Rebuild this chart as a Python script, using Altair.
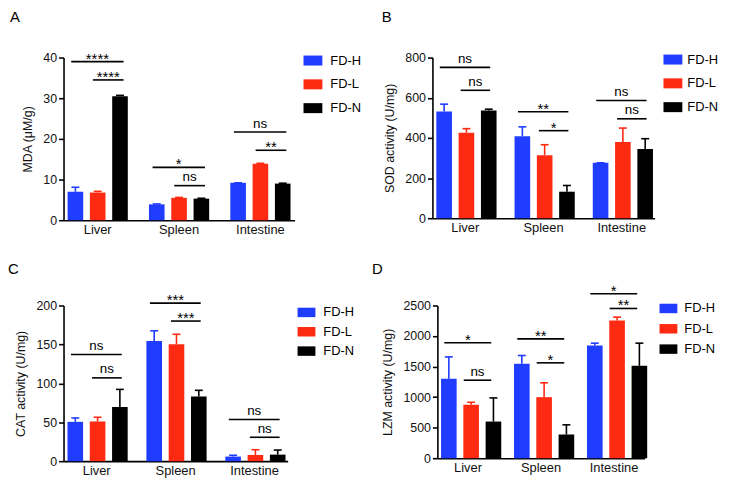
import altair as alt
import pandas as pd

organs = ["Liver", "Spleen", "Intestine"]
groups = ["FD-H", "FD-L", "FD-N"]
colors = ["#1f3cff", "#ff2a12", "#000000"]

# Panel A: MDA (uM/g)
mda_h = [7.0, 3.9, 9.2]
mda_l = [6.8, 5.5, 13.9]
mda_n = [30.5, 5.3, 9.0]
mda_h_err = [1.1, 0.1, 0.0]
mda_l_err = [0.3, 0.1, 0.1]
mda_n_err = [0.2, 0.1, 0.1]
mda_top_y = [39.0, 13.0, 21.7]
mda_top_lab = ["****", "*", "ns"]
mda_low_y = [34.5, 8.5, 17.2]
mda_low_lab = ["****", "ns", "**"]

# Panel B: SOD activity (U/mg)
sod_h = [531, 408, 276]
sod_l = [426, 314, 380]
sod_n = [537, 132, 345]
sod_h_err = [37, 47, 0]
sod_l_err = [20, 52, 69]
sod_n_err = [6, 31, 51]
sod_top_y = [751, 530, 586]
sod_top_lab = ["ns", "**", "ns"]
sod_low_y = [637, 436, 495]
sod_low_lab = ["ns", "*", "ns"]

# Panel C: CAT activity (U/mg)
cat_h = [50.5, 154.5, 5.9]
cat_l = [51.0, 150.3, 8.0]
cat_n = [69.5, 83.0, 8.4]
cat_h_err = [5.0, 13.0, 1.7]
cat_l_err = [5.4, 12.7, 6.7]
cat_n_err = [22.7, 8.0, 5.9]
cat_top_y = [137, 203, 53.5]
cat_top_lab = ["ns", "***", "ns"]
cat_low_y = [107, 180, 30.7]
cat_low_lab = ["ns", "***", "ns"]

# Panel D: LZM activity (U/mg)
lzm_h = [1300, 1545, 1845]
lzm_l = [875, 999, 2254]
lzm_n = [600, 388, 1512]
lzm_h_err = [358, 136, 38]
lzm_l_err = [40, 235, 55]
lzm_n_err = [387, 158, 371]
lzm_top_y = [1889, 1954, 2691]
lzm_top_lab = ["*", "**", "*"]
lzm_low_y = [1277, 1561, 2451]
lzm_low_lab = ["ns", "*", "**"]

FONT = "Liberation Sans"
SYMBOL = "M-1,-0.53H1V0.53H-1Z"


def bar_frame(h, l, n, he, le, ne):
    rows = []
    for g, means, errs in zip(groups, [h, l, n], [he, le, ne]):
        for o, m, e in zip(organs, means, errs):
            rows.append({"organ": o, "group": g, "mean": m, "upper": m + e})
    return pd.DataFrame(rows)


def sig_frame(top_y, top_lab, low_y, low_lab):
    rows = []
    for o, ty, tl, ly, ll in zip(organs, top_y, top_lab, low_y, low_lab):
        rows.append({"organ": o, "kind": "top", "y": ty, "lab": tl})
        rows.append({"organ": o, "kind": "low", "y": ly, "lab": ll})
    return pd.DataFrame(rows)


def panel(df, sig, ymax, ticks, ytitle, letter, w, h, leg, letter_pos):
    lx, ly, sym, rowpad, loff = leg
    xaxis = alt.Axis(title=None, ticks=False, labelAngle=0,
                     labelPadding=3, labelFontSize=13)
    xscale = alt.Scale(paddingInner=0.26, paddingOuter=0.05)
    xoff = alt.XOffset("group:N", sort=groups,
                       scale=alt.Scale(paddingInner=0.3, paddingOuter=0))
    yscale = alt.Scale(domain=[0, ymax], nice=False)
    yaxis = alt.Axis(values=ticks, title=ytitle, titlePadding=8, format="d")

    def X(**kw):
        return alt.X("organ:N", sort=organs, scale=xscale, axis=xaxis, **kw)

    def Y(field):
        return alt.Y(field, scale=yscale, axis=yaxis)

    cscale = alt.Scale(domain=groups, range=colors)
    base = alt.Chart(df)
    bars = base.mark_bar().encode(
        x=X(), xOffset=xoff, y=Y("mean:Q"),
        color=alt.Color("group:N", sort=groups, scale=cscale,
                        legend=alt.Legend(title=None, orient="none",
                                          legendX=lx, legendY=ly,
                                          symbolType=SYMBOL, symbolSize=sym,
                                          symbolStrokeWidth=0, symbolOpacity=1,
                                          labelFontSize=13, labelFont=FONT,
                                          labelColor="black", labelOffset=loff,
                                          rowPadding=rowpad)))
    cnoleg = alt.Color("group:N", sort=groups, scale=cscale, legend=None)
    errs = base.mark_rule(strokeWidth=1.6).encode(
        x=X(), xOffset=xoff, y=Y("mean:Q"), y2="upper:Q", color=cnoleg)
    caps = base.mark_tick(thickness=1.6, size=8, opacity=1).encode(
        x=X(), xOffset=xoff, y=Y("upper:Q"), color=cnoleg)
    sbase = alt.Chart(sig)
    layers = [bars, errs, caps]
    spans = {"top": (0.06, 0.93), "low": (0.42, 0.93)}
    for kind, (b0, b1) in spans.items():
        sub = sbase.transform_filter(alt.datum.kind == kind)
        layers.append(sub.mark_rule(strokeWidth=1.6, color="black").encode(
            x=X(bandPosition=b0),
            x2=alt.X2("organ:N", bandPosition=b1),
            y=Y("y:Q")))
        mid = (b0 + b1) / 2
        layers.append(sub.transform_filter(alt.datum.lab == "ns").mark_text(
            fontSize=13.5, font=FONT, dy=-4.5, baseline="alphabetic", color="black").encode(
            x=X(bandPosition=mid), y=Y("y:Q"), text="lab:N"))
        layers.append(sub.transform_filter(alt.datum.lab != "ns").mark_text(
            fontSize=15, font=FONT, dy=2, baseline="alphabetic", color="black").encode(
            x=X(bandPosition=mid), y=Y("y:Q"), text="lab:N"))
    layers.append(alt.Chart(alt.Data(values=[{"t": letter}])).mark_text(
        fontSize=15, font=FONT, align="left", baseline="top", color="black").encode(
        text="t:N", x=alt.value(letter_pos[0]), y=alt.value(letter_pos[1])))
    return alt.layer(*layers).properties(width=w, height=h)


A = panel(bar_frame(mda_h, mda_l, mda_n, mda_h_err, mda_l_err, mda_n_err),
          sig_frame(mda_top_y, mda_top_lab, mda_low_y, mda_low_lab),
          40, [0, 10, 20, 30, 40], "MDA (μM/g)", "A", 233, 164,
          (242, -6.5, 361, 7, 8), (-54, -48))
B = panel(bar_frame(sod_h, sod_l, sod_n, sod_h_err, sod_l_err, sod_n_err),
          sig_frame(sod_top_y, sod_top_lab, sod_low_y, sod_low_lab),
          800, [0, 200, 400, 600, 800], "SOD activity (U/mg)", "B", 224, 162,
          (233, -7.5, 361, 7, 5), (-51, -48))
C = panel(bar_frame(cat_h, cat_l, cat_n, cat_h_err, cat_l_err, cat_n_err),
          sig_frame(cat_top_y, cat_top_lab, cat_low_y, cat_low_lab),
          200, [0, 50, 100, 150, 200], "CAT activity (U/mg)", "C", 226, 157,
          (236, -2.0, 324, 3.5, 8), (-56, -44))
D = panel(bar_frame(lzm_h, lzm_l, lzm_n, lzm_h_err, lzm_l_err, lzm_n_err),
          sig_frame(lzm_top_y, lzm_top_lab, lzm_low_y, lzm_low_lab),
          2500, [0, 500, 1000, 1500, 2000, 2500], "LZM activity (U/mg)", "D", 209, 154,
          (224, -6.0, 324, 4.5, 7), (-66, -44))

res = dict(color="independent", x="independent", y="independent")
row1 = alt.hconcat(A, B, spacing=139, bounds="flush").resolve_scale(**res).resolve_legend(color="independent")
row2 = alt.hconcat(C, D, spacing=151, bounds="flush").resolve_scale(**res).resolve_legend(color="independent")

chart = (
    alt.vconcat(row1, row2, spacing=26)
    .resolve_scale(**res)
    .resolve_legend(color="independent")
    .properties(padding={"left": 56, "top": 48, "right": 663, "bottom": 424},
                autosize=alt.AutoSizeParams(type="none"), background="white")
    .configure_view(stroke=None)
    .configure_axis(domainColor="black", domainWidth=1.6, tickColor="black",
                    tickWidth=1.6, tickSize=5, labelColor="#111", labelFont=FONT,
                    labelFontSize=12.5, titleFont=FONT, titleFontSize=12.5,
                    titleFontWeight="normal", titleColor="#111", grid=False,
                    labelPadding=2)
)

chart.save("out.html", embed_options={"renderer": "svg", "actions": False})
